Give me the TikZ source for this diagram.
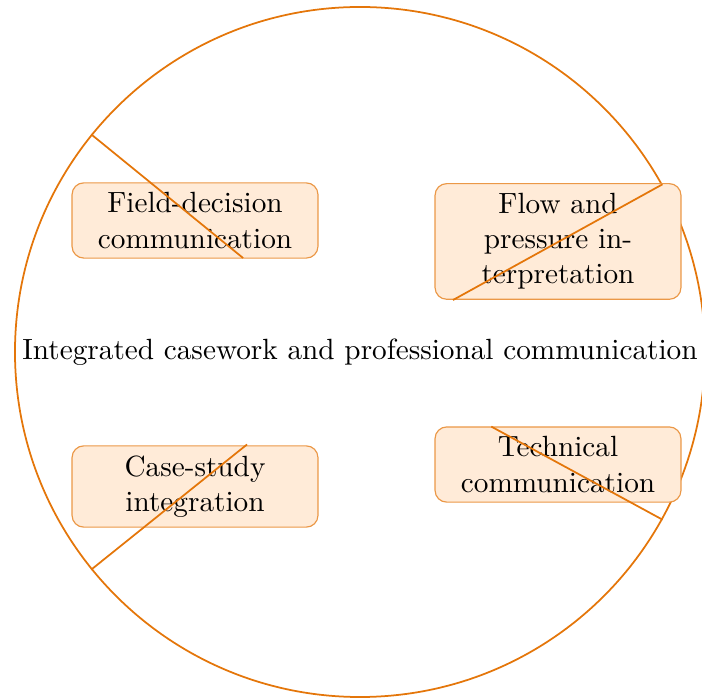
\documentclass[tikz,border=0pt]{standalone}
\usetikzlibrary{math}

\definecolor{hubline}{RGB}{228,118,10}
\definecolor{topicfill}{RGB}{255,235,216}
\tikzset{
    hubcircle/.style={circle, draw=hubline, semithick, inner sep=0pt, minimum size=8.29cm},
    topicbox/.style={rectangle, rounded corners=4pt, draw=hubline!75, fill=topicfill,
        text width=2.72cm, align=center},
    spoke/.style={draw=hubline, semithick}
}

\begin{document}
\begin{tikzpicture}
    \useasboundingbox (-4.325,-4.157) rectangle (4.109,4.229);
    \tikzmath{ \rfd=1.802; \rfp=1.279; \rcs=1.754; \rtc=1.814; }
    \node[hubcircle] (hub) at (0,0) {Integrated casework and professional communication};
    \node[topicbox] (fd) at (-1.982,1.580) {Field-decision communication};
    \node[topicbox] (fp) at (2.379,1.328) {Flow and pressure interpretation};
    \node[topicbox] (cs) at (-1.982,-1.616) {Case-study integration};
    \node[topicbox] (tc) at (2.379,-1.352) {Technical communication};
    % spokes from the circle towards the centre
    \coordinate (fdIn) at (141.2:\rfd);
    \coordinate (fpIn) at (29.2:\rfp);
    \coordinate (csIn) at (219.3:\rcs);
    \coordinate (tcIn) at (-29.6:\rtc);
    \draw[spoke] (hub.141.2) -- (fdIn);
    \draw[spoke] (hub.29.2) -- (fpIn);
    \draw[spoke] (hub.219.3) -- (csIn);
    \draw[spoke] (hub.-29.6) -- (tcIn);
\end{tikzpicture}
\end{document}
